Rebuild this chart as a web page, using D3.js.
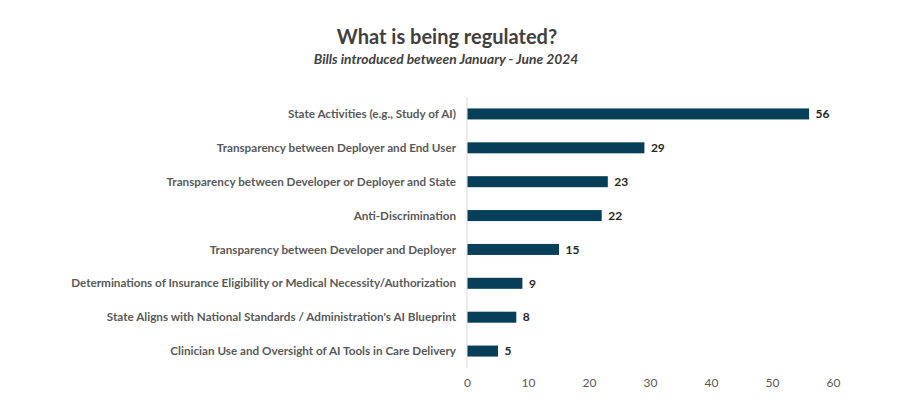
<!DOCTYPE html>
<html><head><meta charset="utf-8">
<script src="https://cdn.jsdelivr.net/npm/d3@7"></script>
<style>body{margin:0;background:#fff;}svg{display:block;}</style>
</head><body>
<svg id="c" width="900" height="404"></svg>
<script>
const categories = [
  "State Activities (e.g., Study of AI)",
  "Transparency between Deployer and End User",
  "Transparency between Developer or Deployer and State",
  "Anti-Discrimination",
  "Transparency between Developer and Deployer",
  "Determinations of Insurance Eligibility or Medical Necessity/Authorization",
  "State Aligns with National Standards / Administration's AI Blueprint",
  "Clinician Use and Oversight of AI Tools in Care Delivery"
];
const values = [56, 29, 23, 22, 15, 9, 8, 5];
const tickValues = [0, 10, 20, 30, 40, 50, 60];
const title = "What is being regulated?";
const subtitle = "Bills introduced between January - June 2024";

const svg = d3.select("#c");
const font = "Lato, 'Open Sans', sans-serif";
const x = d3.scaleLinear().domain([0, 60]).range([467, 833]);
const y = d3.scaleBand().domain(categories).range([97, 368]).paddingInner(0.675).paddingOuter(0.3375);

svg.append("text").attr("x", 447).attr("y", 44).attr("text-anchor", "middle")
  .attr("font-family", font).attr("font-weight", 700).attr("font-size", 20).attr("fill", "#404040").text(title);
svg.append("text").attr("x", 446).attr("y", 64).attr("text-anchor", "middle")
  .attr("font-family", font).attr("font-weight", 700).attr("font-style", "italic").attr("font-size", 13.8).attr("fill", "#404040").text(subtitle);

// vertical axis line
svg.append("line").attr("x1", x(0)).attr("x2", x(0)).attr("y1", 97).attr("y2", 368)
  .attr("stroke", "#d9d9d9").attr("stroke-width", 1);

svg.selectAll("rect.bar").data(categories).join("rect").attr("class", "bar")
  .attr("x", x(0) + 0.5).attr("y", d => y(d)).attr("height", y.bandwidth())
  .attr("width", (d, i) => x(values[i]) - x(0)).attr("fill", "#083f58");

svg.selectAll("text.cat").data(categories).join("text").attr("class", "cat")
  .attr("x", 456).attr("y", d => y(d) + y.bandwidth() / 2).attr("dy", "0.35em")
  .attr("text-anchor", "end").attr("font-family", font).attr("font-weight", 700)
  .attr("font-size", 11.7).attr("fill", "#595959").text(d => d);

svg.selectAll("text.val").data(categories).join("text").attr("class", "val")
  .attr("x", (d, i) => x(values[i]) + 7).attr("y", d => y(d) + y.bandwidth() / 2).attr("dy", "0.35em")
  .attr("font-family", font).attr("font-weight", 700).attr("font-size", 12).attr("fill", "#262626")
  .text((d, i) => values[i]);

const axis = d3.axisBottom(x).tickValues(tickValues).tickSize(0).tickPadding(0);
const g = svg.append("g").attr("transform", "translate(0,378)").call(axis);
g.select(".domain").remove();
g.selectAll("text").attr("font-family", font).attr("font-size", 12).attr("fill", "#595959").attr("dy", "0.71em");
</script>
</body></html>
